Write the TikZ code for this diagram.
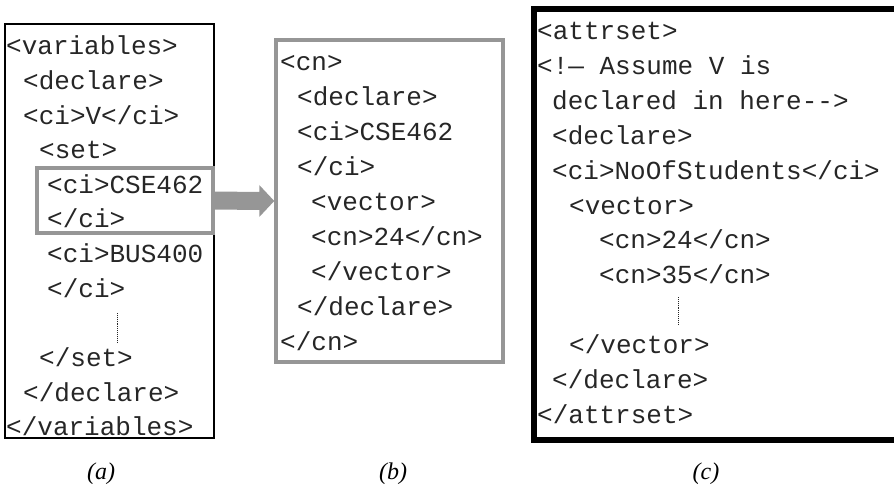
\documentclass[tikz,border=0pt]{standalone}
\usepackage{fontspec}
\newfontfamily\codefont{Liberation Mono}
\newfontfamily\labfont{Liberation Serif}
\usetikzlibrary{calc}
\definecolor{hlgray}{RGB}{150,150,150}
\begin{document}
\begin{tikzpicture}[x=1pt,y=-1pt,
  code/.style={font=\codefont\fontsize{26}{30}\selectfont, text=black!85, anchor=base west, inner sep=0pt},
  lab/.style={font=\labfont\itshape\fontsize{24}{28}\selectfont, inner sep=0pt},
  boxa/.style={draw=black, line width=1.5pt, inner sep=0pt},
  hlbox/.style={draw=hlgray, line width=3.5pt, inner sep=0pt},
  boxc/.style={draw=black, line width=6pt},
  vdots/.style={densely dotted, line width=0.9pt, black!85}]
\useasboundingbox (0,0) rectangle (894,489);
% box (a)
\node[boxa, minimum width=209pt, minimum height=414pt] (A) at (109.5,231) {};
\node[hlbox, minimum width=176pt, minimum height=65pt] (HL) at (125,200.5) {};
% box (b)
\node[hlbox, minimum width=227pt, minimum height=322pt] (B) at (389.5,201) {};
% box (c), right side cut off
\coordinate (Ctl) at (534,9.5);
\coordinate (Cbl) at (534,440);
\draw[boxc] (894,9.5) -- (Ctl) -- (Cbl) -- (894,440);
% arrow
\fill[hlgray] ([yshift=9pt]HL.east) -- ([xshift=-15pt,yshift=9pt]B.west)
  -- ([xshift=-15pt,yshift=16pt]B.west) -- (B.west)
  -- ([xshift=-15pt,yshift=-16pt]B.west) -- ([xshift=-15pt,yshift=-9pt]B.west)
  -- ([yshift=-9pt]HL.east) -- cycle;
% text (a)
\node[code] (a1) at (6,55) {<variables>};
\node[code] (a2) at (23,89.6) {<declare>};
\node[code] (a3) at (23,124.2) {<ci>V</ci>};
\node[code] (a4) at (39,158.8) {<set>};
\node[code] (a5) at (47,193.4) {<ci>CSE462};
\node[code] (a6) at (47,228) {</ci>};
\node[code] (a7) at (47,262.6) {<ci>BUS400};
\node[code] (a8) at (47,297.2) {</ci>};
\coordinate (ad1) at (117,313);
\coordinate (ad2) at (117,342);
\draw[vdots] (ad1) -- (ad2);
\node[code] (a9) at (39,366.4) {</set>};
\node[code] (a10) at (23,401) {</declare>};
\node[code] (a11) at (6,435.6) {</variables>};
% text (b)
\node[code] (b1) at (280,71) {<cn>};
\node[code] (b2) at (297,105.9) {<declare>};
\node[code] (b3) at (297,140.8) {<ci>CSE462};
\node[code] (b4) at (297,175.6) {</ci>};
\node[code] (b5) at (311,210.5) {<vector>};
\node[code] (b6) at (311,245.4) {<cn>24</cn>};
\node[code] (b7) at (311,280.3) {</vector>};
\node[code] (b8) at (297,315.1) {</declare>};
\node[code] (b9) at (280,350) {</cn>};
% text (c)
\node[code] (c1) at (537,40) {<attrset>};
\node[code] (c2) at (537,74.8) {<!— Assume V is};
\node[code] (c3) at (552,109.6) {declared in here-{}-{}>};
\node[code] (c4) at (552,144.4) {<declare>};
\node[code] (c5) at (552,179.3) {<ci>NoOfStudents</ci>};
\node[code] (c6) at (569,214.1) {<vector>};
\node[code] (c7) at (599,248.9) {<cn>24</cn>};
\node[code] (c8) at (599,283.7) {<cn>35</cn>};
\coordinate (cd1) at (678,297);
\coordinate (cd2) at (678,325);
\draw[vdots] (cd1) -- (cd2);
\node[code] (c9) at (569,353.4) {</vector>};
\node[code] (c10) at (552,388.2) {</declare>};
\node[code] (c11) at (537,423) {</attrset>};
% labels
\node[lab] (la) at (101,474) {(a)};
\node[lab] (lb) at (393,474) {(b)};
\node[lab] (lc) at (706,474) {(c)};
\end{tikzpicture}
\end{document}
